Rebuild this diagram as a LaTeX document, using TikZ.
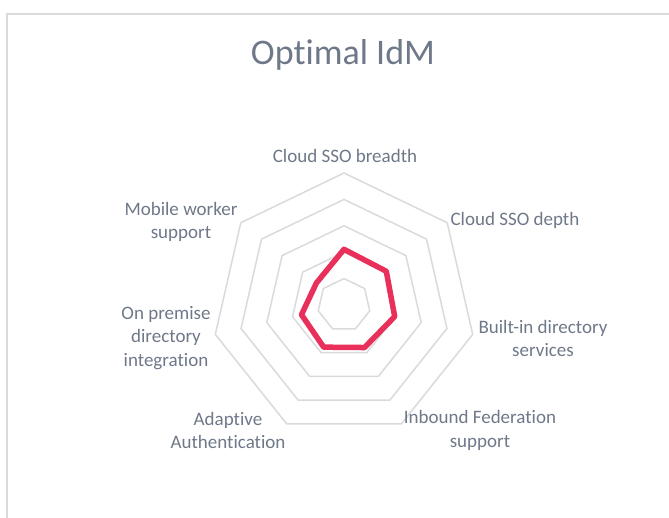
\documentclass[tikz,border=0pt]{standalone}
\usepackage{fontspec}
\setmainfont{Carlito}[Ligatures={NoCommon,NoRequired,NoContextual,NoRare}, Contextuals=NoAlternate]
\usetikzlibrary{calc}
\definecolor{ringgrey}{HTML}{D9DADC}
\definecolor{labelgrey}{HTML}{6E7889}
\definecolor{seriesred}{HTML}{E8305A}
\tikzset{axislabel/.style={text=labelgrey, align=center, inner sep=0pt, font=\fontsize{19}{23.5}\selectfont}}

\begin{document}
\begin{tikzpicture}[x=1pt, y=1pt]
			%%%%% START %%%%%
			\useasboundingbox (-344, -212) rectangle (325, 305);
			
			\draw[line width=1.5pt, color=ringgrey] (-337, 291) rectangle (345, -235);
			
			\node[anchor=base, text=labelgrey, font=\fontsize{36}{43}\selectfont] (title) at (-1, 240) {Opt\kern0pt imal IdM};
			
			\foreach \r in {26.4, 52.8, 79.2, 105.6, 132}
				\draw[line width=1.5pt, color=ringgrey, line join=round] (90:\r) \foreach \k in {1,...,6} { -- ({90-\k*360/7}:\r) } -- cycle;
			
			\draw[line width=5.5pt, color=seriesred, line join=round] (90:55.7) -- (38.57:54.1) -- (-12.86:52) -- (-64.29:47.2) -- (-115.71:46.8) -- (-167.14:43.6) -- (141.43:35.3) -- cycle;
			
			\node[axislabel] (breadth) at (1, 149) {Cloud SSO breadth};
			\node[axislabel] (depth) at (171, 85) {Cloud SSO depth};
			\node[axislabel] (builtin) at (199, -33.5) {Built-in directory\\services};
			\node[axislabel] (inbound) at (136, -125.5) {Inbound Federation\\support};
			\node[axislabel] (adaptive) at (-116, -125.5) {Adapt\kern0pt ive\\Authent\kern0pt ication};
			\node[axislabel] (onprem) at (-178, -33) {On premise\\directory\\integration};
			\node[axislabel] (mobile) at (-163, 83) {Mobile worker\\support};
			
			%%%%% END %%%%%
\end{tikzpicture}
\end{document}
